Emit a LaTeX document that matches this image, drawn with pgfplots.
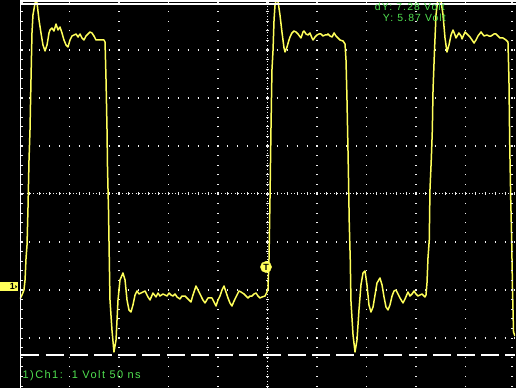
\documentclass[border=0pt]{standalone}
\usepackage{pgfplots}
\pgfplotsset{compat=1.18}
\usepackage{fontspec}
\setmainfont{Liberation Sans}
\definecolor{scopeyellow}{RGB}{255,255,90}
\definecolor{scopegreen}{RGB}{80,225,80}
\definecolor{griddot}{RGB}{240,240,240}
\begin{document}
\begin{tikzpicture}
\fill[black] (0pt,0pt) rectangle (516pt,388pt);
\begin{axis}[
  at={(20pt,0pt)}, anchor=south west,
  width=495pt, height=388pt, scale only axis,
  xmin=-250, xmax=250, ymin=-2.1042, ymax=5.9792,
  axis line style={draw=none},
  tick style={draw=none},
  xticklabels={}, yticklabels={},
  xtick={-200,-150,-100,-50,50,100,150,200},
  ytick={-1.0625,-0.0625,0.9375,2.9375,3.9375,4.9375},
  grid=major,
  major x grid style={griddot, line width=1.1pt, dash pattern=on 1.1pt off 8.5pt, dash phase=8.2pt},
  major y grid style={griddot, line width=1.1pt, dash pattern=on 1.1pt off 8.8pt, dash phase=0.6pt},
  clip=true,
]
% centre lines
\draw[griddot, line width=1pt, dash pattern=on 1pt off 2.2pt] (axis cs:0,-2.1042) -- (axis cs:0,5.9792);
\draw[griddot, line width=3pt, dash pattern=on 1.1pt off 8.5pt, dash phase=8.2pt] (axis cs:0,-2.1042) -- (axis cs:0,5.9792);
\draw[griddot, line width=1pt, dash pattern=on 1pt off 2.3pt] (axis cs:-250,1.9375) -- (axis cs:250,1.9375);
\draw[griddot, line width=3pt, dash pattern=on 1.1pt off 8.8pt, dash phase=0.6pt] (axis cs:-250,1.9375) -- (axis cs:250,1.9375);
% cursor line
\draw[white, line width=1.7pt, dash pattern=on 18pt off 6.2pt] (axis cs:-248.5,-1.41) -- (axis cs:250,-1.41);
\addplot[scopeyellow, line width=1.5pt, line join=round] coordinates {
(-250.0,-0.25) (-248.0,-0.167) (-246.0,-0.063) (-244.9,0.146) (-243.9,0.604) (-242.9,0.875)
(-241.9,1.667) (-240.9,2.646) (-239.9,3.271) (-238.9,4.313) (-237.9,5.292) (-236.9,5.667)
(-234.8,5.917) (-233.8,5.958) (-232.8,5.917) (-230.8,5.563) (-228.8,5.292) (-226.8,5.042)
(-224.7,4.917) (-222.7,5.042) (-220.7,5.292) (-219.7,5.354) (-217.7,5.396) (-215.7,5.333)
(-213.6,5.479) (-211.6,5.354) (-209.6,5.417) (-207.6,5.292) (-205.6,5.146) (-203.5,5.042)
(-201.5,5.0) (-199.5,5.146) (-197.5,5.229) (-195.5,5.25) (-193.4,5.271) (-191.4,5.208)
(-189.4,5.271) (-187.4,5.188) (-185.4,5.146) (-183.3,5.229) (-181.3,5.271) (-179.3,5.313)
(-177.3,5.292) (-175.3,5.229) (-173.2,5.146) (-171.2,5.146) (-169.2,5.146) (-165.2,5.146)
(-164.1,5.104) (-163.1,4.313) (-162.1,3.271) (-161.6,2.479) (-160.6,1.604) (-159.8,0.563)
(-159.1,-0.271) (-157.1,-0.896) (-155.1,-1.354) (-153.0,-1.104) (-151.0,-0.271) (-149.0,0.146)
(-146.0,0.292) (-143.9,0.146) (-141.9,-0.271) (-139.9,-0.479) (-137.9,-0.521) (-135.9,-0.375)
(-133.8,-0.167) (-131.8,-0.083) (-129.8,-0.146) (-127.8,-0.125) (-125.8,-0.104) (-123.7,-0.083)
(-120.7,-0.208) (-118.7,-0.271) (-115.7,-0.125) (-112.6,-0.208) (-110.6,-0.125) (-108.6,-0.188)
(-105.6,-0.146) (-101.5,-0.188) (-99.5,-0.125) (-97.5,-0.167) (-95.5,-0.188) (-93.4,-0.146)
(-91.4,-0.208) (-88.4,-0.25) (-86.4,-0.188) (-83.3,-0.188) (-79.3,-0.271) (-77.3,-0.313)
(-75.3,-0.167) (-72.2,0.021) (-70.2,-0.063) (-68.2,-0.146) (-65.2,-0.271) (-63.1,-0.333)
(-60.1,-0.229) (-56.1,-0.229) (-54.0,-0.313) (-52.0,-0.396) (-50.0,-0.271) (-48.0,-0.188)
(-46.0,-0.063) (-43.9,0.021) (-41.9,-0.104) (-39.9,-0.229) (-37.9,-0.333) (-35.9,-0.396)
(-33.8,-0.292) (-31.8,-0.208) (-28.8,-0.083) (-26.8,-0.104) (-23.7,-0.146) (-21.7,-0.188)
(-19.7,-0.229) (-17.7,-0.188) (-15.7,-0.188) (-13.6,-0.146) (-11.6,-0.125) (-9.6,-0.188)
(-7.6,-0.229) (-5.6,-0.208) (-2.5,-0.188) (-0.5,-0.104) (0.5,-0.042) (1.5,0.563)
(2.5,1.813) (3.5,3.271) (4.5,4.521) (5.6,4.938) (6.6,5.563) (7.6,5.875)
(8.6,5.958) (10.6,5.958) (12.6,5.667) (14.6,5.313) (16.7,4.979) (17.7,4.896)
(19.7,5.0) (21.7,5.146) (22.7,5.208) (24.7,5.292) (26.8,5.333) (28.8,5.313)
(30.8,5.271) (33.8,5.188) (35.9,5.313) (36.9,5.333) (38.9,5.271) (40.9,5.25)
(42.9,5.292) (44.9,5.188) (46.0,5.146) (48.0,5.208) (50.0,5.25) (52.0,5.271)
(54.0,5.271) (56.1,5.229) (58.1,5.25) (60.1,5.25) (61.1,5.271) (63.1,5.229)
(65.2,5.208) (67.2,5.292) (69.2,5.229) (71.2,5.188) (73.2,5.146) (76.3,5.125)
(78.3,5.063) (79.3,4.729) (80.3,3.896) (81.3,2.854) (81.8,2.292) (82.6,1.313)
(83.6,0.563) (84.3,-0.292) (86.4,-1.0) (88.4,-1.354) (90.4,-1.104) (92.4,-0.479)
(94.4,0.042) (96.5,0.292) (98.5,0.333) (100.5,0.042) (102.5,-0.375) (104.5,-0.521)
(106.6,-0.417) (108.6,-0.167) (110.6,0.083) (113.6,0.188) (115.7,0.042) (117.7,-0.208)
(119.7,-0.417) (121.7,-0.479) (123.7,-0.375) (125.8,-0.188) (127.8,-0.083) (129.8,-0.063)
(131.8,-0.146) (133.8,-0.229) (136.9,-0.333) (138.9,-0.25) (141.9,-0.104) (143.9,-0.188)
(146.0,-0.146) (148.0,-0.083) (150.0,-0.146) (152.0,-0.188) (154.0,-0.167) (156.1,-0.146)
(159.1,-0.208) (160.1,-0.167) (161.1,0.083) (162.1,0.604) (163.4,0.979) (164.1,2.021)
(165.5,2.688) (166.5,3.271) (167.2,4.104) (168.7,4.938) (170.2,5.667) (171.7,5.938)
(173.2,5.979) (175.3,5.958) (177.3,5.667) (179.3,5.188) (181.3,4.896) (183.3,5.042)
(185.4,5.25) (187.4,5.354) (189.4,5.25) (190.4,5.188) (193.4,5.292) (195.5,5.229)
(196.5,5.167) (199.5,5.313) (201.5,5.271) (204.5,5.208) (206.6,5.146) (208.6,5.083)
(210.6,5.146) (212.6,5.229) (215.7,5.313) (218.7,5.229) (221.7,5.25) (223.7,5.229)
(225.8,5.229) (228.8,5.271) (230.8,5.271) (232.8,5.229) (234.8,5.188) (237.9,5.188)
(240.9,5.146) (242.9,5.104) (243.9,4.313) (244.6,3.063) (245.7,1.813) (246.7,0.917)
(247.5,-0.063) (248.5,-0.938) (250.0,-1.021)
};
% trigger marker
\addplot[only marks, mark=*, mark size=5.6pt, mark options={fill=scopeyellow, draw=scopeyellow},
  nodes near coords={\textbf{T}},
  every node near coord/.style={anchor=center, inner sep=0pt, text=black, font=\fontsize{9}{9}\selectfont\bfseries}]
  coordinates {(-1.5,0.417)};
\end{axis}
% frame lines
\draw[white, line width=1.3pt] (20.6pt,0pt) -- (20.6pt,388pt);
\draw[griddot, line width=2.5pt, dash pattern=on 1.1pt off 8.5pt, dash phase=8.2pt] (22pt,0pt) -- (22pt,388pt);
\draw[griddot, line width=2.5pt, dash pattern=on 1.1pt off 8.5pt, dash phase=8.2pt] (512pt,0pt) -- (512pt,388pt);
\draw[white, line width=1.4pt] (20pt,386.8pt) -- (516pt,386.8pt);
\draw[white, line width=1.1pt] (20pt,384pt) -- (516pt,384pt);
% ground marker
\fill[scopeyellow] (0pt,97pt) rectangle (17.5pt,105.7pt);
\node[inner sep=0pt, font=\fontsize{9}{9}\selectfont\bfseries] at (12.3pt,101.3pt) {1};
\fill[black] (15.3pt,99.6pt) -- (17.2pt,101.3pt) -- (15.3pt,103pt) -- cycle;
% texts
\node[anchor=base west, inner sep=0pt, text=scopegreen, font=\fontsize{11}{12}\selectfont\addfontfeature{LetterSpace=13}] at (22.5pt,9.3pt) {1)Ch1:\ \ 1 Volt 50 ns};
\node[anchor=base east, inner sep=0pt, text=scopegreen, font=\fontsize{10.4}{11}\selectfont\addfontfeature{LetterSpace=11}] at (445pt,377pt) {dY: 7.28 Volt};
\node[anchor=base east, inner sep=0pt, text=scopegreen, font=\fontsize{10.4}{11}\selectfont\addfontfeature{LetterSpace=11}] at (446pt,366pt) {Y: 5.87 Volt};
\pgfresetboundingbox
\path[use as bounding box] (0pt,0pt) rectangle (516pt,388pt);
\end{tikzpicture}
\end{document}
